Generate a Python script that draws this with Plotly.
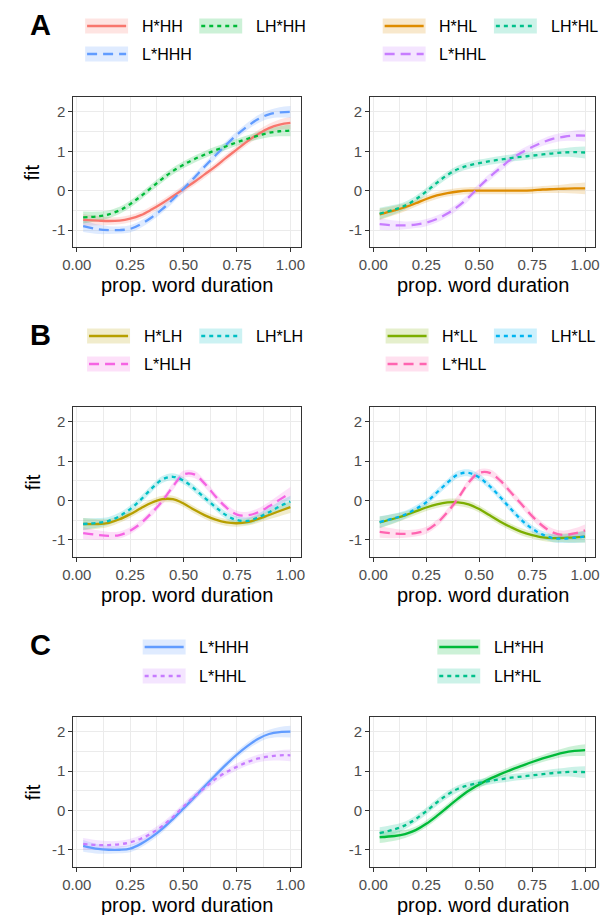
import plotly.graph_objects as go

# ---------------- data ----------------
X = [0.03, 0.10, 0.15, 0.20, 0.25, 0.30, 0.35, 0.40, 0.45, 0.50,
     0.55, 0.60, 0.65, 0.70, 0.75, 0.80, 0.85, 0.90, 0.95, 1.00]

# approximate half-width of the confidence ribbons
SE = [0.15, 0.12, 0.10, 0.09, 0.09, 0.09, 0.09, 0.09, 0.09, 0.09,
      0.09, 0.09, 0.09, 0.09, 0.09, 0.09, 0.10, 0.11, 0.13, 0.15]

H_HH = [-0.74, -0.76, -0.77, -0.76, -0.71, -0.62, -0.48, -0.32, -0.14, 0.04,
        0.22, 0.42, 0.62, 0.84, 1.05, 1.26, 1.44, 1.59, 1.68, 1.72]
L_HHH = [-0.90, -0.98, -1.00, -1.00, -0.97, -0.85, -0.68, -0.47, -0.22, 0.05,
         0.33, 0.62, 0.90, 1.17, 1.42, 1.64, 1.82, 1.94, 1.99, 2.00]
LH_HH = [-0.68, -0.65, -0.60, -0.50, -0.34, -0.14, 0.08, 0.30, 0.50, 0.66,
         0.80, 0.92, 1.03, 1.13, 1.23, 1.32, 1.40, 1.47, 1.51, 1.53]

H_HL = [-0.60, -0.50, -0.42, -0.32, -0.21, -0.12, -0.06, -0.02, 0.00, 0.00,
        0.00, 0.00, 0.00, 0.00, 0.01, 0.03, 0.04, 0.05, 0.06, 0.06]
L_HHL = [-0.85, -0.88, -0.88, -0.86, -0.81, -0.72, -0.58, -0.40, -0.17, 0.10,
         0.35, 0.58, 0.80, 0.97, 1.11, 1.23, 1.32, 1.37, 1.40, 1.40]
LH_HL = [-0.58, -0.48, -0.38, -0.22, -0.02, 0.20, 0.40, 0.55, 0.64, 0.70,
         0.75, 0.79, 0.83, 0.86, 0.89, 0.92, 0.95, 0.97, 0.98, 0.97]

H_LH = [-0.60, -0.60, -0.57, -0.48, -0.35, -0.20, -0.06, 0.03, 0.03, -0.08,
        -0.24, -0.38, -0.49, -0.56, -0.58, -0.55, -0.47, -0.37, -0.27, -0.17]
L_HLH = [-0.83, -0.88, -0.90, -0.88, -0.77, -0.58, -0.32, -0.02, 0.35, 0.66,
         0.66, 0.42, 0.10, -0.18, -0.36, -0.38, -0.30, -0.15, 0.02, 0.19]
LH_LH = [-0.60, -0.57, -0.52, -0.40, -0.22, 0.02, 0.30, 0.53, 0.60, 0.50,
         0.30, 0.06, -0.17, -0.38, -0.50, -0.52, -0.43, -0.30, -0.15, -0.03]

H_LL = [-0.56, -0.46, -0.38, -0.28, -0.18, -0.10, -0.05, -0.05, -0.10, -0.22,
        -0.38, -0.54, -0.68, -0.80, -0.88, -0.94, -0.96, -0.95, -0.94, -0.92]
L_HLL = [-0.80, -0.84, -0.85, -0.83, -0.76, -0.58, -0.30, 0.05, 0.45, 0.70,
         0.70, 0.50, 0.20, -0.10, -0.40, -0.65, -0.82, -0.88, -0.84, -0.76]
LH_LL = [-0.55, -0.45, -0.36, -0.22, -0.05, 0.20, 0.45, 0.66, 0.70, 0.58,
         0.36, 0.08, -0.22, -0.50, -0.72, -0.87, -0.96, -0.97, -0.95, -0.92]

FIT = {
    "H*HH": H_HH, "L*HHH": L_HHH, "LH*HH": LH_HH,
    "H*HL": H_HL, "L*HHL": L_HHL, "LH*HL": LH_HL,
    "H*LH": H_LH, "L*HLH": L_HLH, "LH*LH": LH_LH,
    "H*LL": H_LL, "L*HLL": L_HLL, "LH*LL": LH_LL,
}

COLORS = {
    "H*HH": "#F8766D", "H*HL": "#DE8C00", "H*LH": "#B79F00", "H*LL": "#7CAE00",
    "LH*HH": "#00BA38", "LH*HL": "#00C08B", "LH*LH": "#00BFC4", "LH*LL": "#00B4F0",
    "L*HHH": "#619CFF", "L*HHL": "#C77CFF", "L*HLH": "#F564E3", "L*HLL": "#FF64B0",
}

X_TICKS = [0.0, 0.25, 0.5, 0.75, 1.0]
X_TICKTEXT = ["0.00", "0.25", "0.50", "0.75", "1.00"]
Y_TICKS = [-1, 0, 1, 2]
Y_TICKTEXT = ["-1", "0", "1", "2"]

# panels: (row label, series, line styles)
PANELS = [
    ("A", ["H*HH", "L*HHH", "LH*HH"], ["solid", "dash", "dot"]),
    (None, ["H*HL", "L*HHL", "LH*HL"], ["solid", "dash", "dot"]),
    ("B", ["H*LH", "L*HLH", "LH*LH"], ["solid", "dash", "dot"]),
    (None, ["H*LL", "L*HLL", "LH*LL"], ["solid", "dash", "dot"]),
    ("C", ["L*HHH", "L*HHL"], ["solid", "dot"]),
    (None, ["LH*HH", "LH*HL"], ["solid", "dot"]),
]

# ---------------- layout geometry (pixels) ----------------
W, H = 614, 915
COLS = [(64, 297), (368, 599)]
ROW_TOP = [97, 406.7, 716.7]
PANEL_H = 150
ROW_LABEL_Y = [25, 335, 645]
LEGEND_ROWS = [(26, 54), (336, 364), (647, 676)]
LEGEND_COLS = [
    [(76, 193), (381, 495)],
    [(78, 193), (384, 495)],
    [(135,), (437,)],
]
KEY_W, KEY_H = 44, 15

DASHES = {"solid": "solid", "dash": "10px,6px", "dot": "4px,4px"}
FONT = "Liberation Sans, Arial, Helvetica, sans-serif"


def px(x):
    return x / W


def py(y):
    return 1 - y / H


def rgba(hexc, a):
    h = hexc.lstrip("#")
    return "rgba(%d,%d,%d,%s)" % (int(h[0:2], 16), int(h[2:4], 16), int(h[4:6], 16), a)


fig = go.Figure()
layout = dict(
    width=W, height=H, margin=dict(l=0, r=0, t=0, b=0),
    paper_bgcolor="white", plot_bgcolor="white", showlegend=False,
    font=dict(family=FONT),
)
shapes = []
annotations = []

for i, (lab, names, styles) in enumerate(PANELS):
    r, c = divmod(i, 2)
    k = i + 1
    xa = "x" if k == 1 else "x%d" % k
    ya = "y" if k == 1 else "y%d" % k
    x0, x1 = COLS[c]
    top = ROW_TOP[r]
    bot = top + PANEL_H

    # ribbons first
    for nm in names:
        vals = FIT[nm]
        upper = [v + s for v, s in zip(vals, SE)]
        lower = [v - s for v, s in zip(vals, SE)]
        fig.add_trace(go.Scatter(x=X, y=upper, xaxis=xa, yaxis=ya, mode="lines",
                                 line=dict(width=0, shape="spline", smoothing=1.0),
                                 hoverinfo="skip"))
        fig.add_trace(go.Scatter(x=X, y=lower, xaxis=xa, yaxis=ya, mode="lines",
                                 line=dict(width=0, shape="spline", smoothing=1.0),
                                 fill="tonexty", fillcolor=rgba(COLORS[nm], 0.2),
                                 hoverinfo="skip"))
    for nm, st in zip(names, styles):
        fig.add_trace(go.Scatter(x=X, y=FIT[nm], xaxis=xa, yaxis=ya, mode="lines",
                                 name=nm,
                                 line=dict(color=COLORS[nm], width=2.3, dash=DASHES[st],
                                           shape="spline", smoothing=1.0)))

    axis_common = dict(
        showline=True, mirror=True, linecolor="#333333", linewidth=1,
        ticks="outside", ticklen=4, tickcolor="#333333", tickwidth=1,
        tickfont=dict(size=15, color="#4D4D4D", family=FONT),
        showgrid=True, gridcolor="#EBEBEB", gridwidth=1.2, zeroline=False,
    )
    layout["xaxis" if k == 1 else "xaxis%d" % k] = dict(
        axis_common, domain=[px(x0), px(x1)], anchor=ya,
        range=[-0.0155, 1.0485], tickvals=X_TICKS, ticktext=X_TICKTEXT,
        minor=dict(tickvals=[0.125, 0.375, 0.625, 0.875], showgrid=True,
                   gridcolor="#EBEBEB", gridwidth=0.6, ticks=""),
    )
    layout["yaxis" if k == 1 else "yaxis%d" % k] = dict(
        axis_common, domain=[py(bot), py(top)], anchor=xa,
        range=[-1.43, 2.38], tickvals=Y_TICKS, ticktext=Y_TICKTEXT,
        minor=dict(tickvals=[-0.5, 0.5, 1.5], showgrid=True,
                   gridcolor="#EBEBEB", gridwidth=0.6, ticks=""),
    )

    # axis titles
    annotations.append(dict(text="prop. word duration", xref="paper", yref="paper",
                            x=px((x0 + x1) / 2), y=py(bot + 38), showarrow=False,
                            xanchor="center", yanchor="middle",
                            font=dict(size=20, color="black", family=FONT)))
    if c == 0:
        annotations.append(dict(text="fit", xref="paper", yref="paper",
                                x=px(22), y=py((top + bot) / 2), showarrow=False,
                                textangle=-90, xanchor="center", yanchor="middle",
                                font=dict(size=20, color="black", family=FONT)))
    if lab:
        annotations.append(dict(text="<b>%s</b>" % lab, xref="paper", yref="paper",
                                x=px(30), y=py(ROW_LABEL_Y[r]), showarrow=False,
                                xanchor="center", yanchor="middle",
                                font=dict(size=29, color="black", family=FONT)))

    # legend (ggplot-style keys: ribbon box + line)
    colx = LEGEND_COLS[r][c]
    rows_y = LEGEND_ROWS[r]
    if len(names) == 3:
        slots = [(colx[0], rows_y[0]), (colx[0], rows_y[1]), (colx[1], rows_y[0])]
    else:
        slots = [(colx[0], rows_y[0]), (colx[0], rows_y[1])]
    for nm, st, (kx, ky) in zip(names, styles, slots):
        shapes.append(dict(type="rect", xref="paper", yref="paper",
                           x0=px(kx), x1=px(kx + KEY_W),
                           y0=py(ky + KEY_H / 2), y1=py(ky - KEY_H / 2),
                           fillcolor=rgba(COLORS[nm], 0.2), line=dict(width=0)))
        shapes.append(dict(type="line", xref="paper", yref="paper",
                           x0=px(kx + 2), x1=px(kx + KEY_W - 2), y0=py(ky), y1=py(ky),
                           line=dict(color=COLORS[nm], width=2.3, dash=DASHES[st])))
        annotations.append(dict(text=nm, xref="paper", yref="paper",
                                x=px(kx + KEY_W + 12), y=py(ky), showarrow=False,
                                xanchor="left", yanchor="middle",
                                font=dict(size=16, color="black", family=FONT)))

layout["shapes"] = shapes
layout["annotations"] = annotations
fig.update_layout(**layout)
fig.write_html("out.html")
